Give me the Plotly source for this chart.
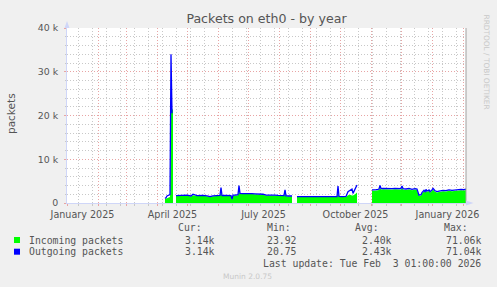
import plotly.graph_objects as go
import pandas as pd

# ---------------- data ----------------
start_date = "2025-01-01"
# day offsets from start_date (one pixel per day in the original); None marks a data gap
days = [98, 99, 100, 101, 102, 103, 104, 105, 106, 107,
        109, 113, 116, 120, 124, 126, 130, 133, 136, 140, 143, 146, 150, 152, 153, 154, 155,
        158, 161, 163, 164, 165, 166, 168, 170, 171, 172, 173, 176, 179, 182, 185, 188, 191,
        194, 196, 199, 202, 205, 208, 211, 214, 217, 218, 219, 222, 225, 227,
        230, 233, 236, 239, 242, 245, 248, 251, 254, 257, 260, 263, 266, 269, 270, 271, 272,
        275, 278, 279, 281, 283, 285, 286, 288, 289, 290, 297,
        305, 307, 309, 311, 312, 313, 314, 316, 319, 322, 325, 328, 331, 333, 334, 335, 336,
        339, 342, 345, 348, 350, 351, 352, 354, 355, 357, 358, 359, 360, 362, 363, 365, 366,
        368, 370, 372, 374, 376, 379, 382, 385, 388, 391, 394, 397, 399]

# thousands of packets
incoming_k = [0.9, 1.0, 1.1, 1.2, 1.2, 1.4, 21.6, 21.6, 21.2, None,
              1.6, 1.7, 1.6, 1.7, 1.5, 1.8, 1.6, 1.7, 1.65, 1.55, 1.4, 1.55, 1.65, 1.6, 1.65, 2.6, 1.6,
              1.65, 1.7, 1.65, 1.6, 0.8, 1.7, 1.7, 1.8, 1.8, 3.0, 2.1, 2.05, 2.1, 2.0, 2.05, 2.0, 1.95,
              2.0, 1.9, 1.7, 1.75, 1.65, 1.7, 1.65, 1.7, 1.6, 2.3, 1.55, 1.5, 1.5, None,
              1.35, 1.35, 1.35, 1.35, 1.35, 1.35, 1.4, 1.35, 1.35, 1.35, 1.35, 1.35, 1.35, 1.35, 1.35, 2.6, 1.4,
              1.35, 1.35, 1.4, 1.8, 1.9, 1.7, 1.7, 2.0, 2.2, 2.4, None,
              2.8, 2.9, 2.85, 2.9, 3.0, 3.5, 3.1, 3.15, 3.1, 3.2, 3.1, 3.15, 3.1, 3.2, 3.1, 3.5, 3.1,
              3.0, 3.15, 2.9, 3.1, 3.0, 2.2, 1.6, 1.7, 2.2, 2.7, 2.4, 2.9, 2.5, 2.8, 2.4, 2.8, 3.1,
              2.6, 2.4, 2.5, 2.6, 2.7, 2.65, 2.8, 2.7, 2.8, 2.8, 2.9, 2.85, 2.95]

outgoing_k = [1.05, 1.2, 1.6, 1.7, 1.8, 1.9, 34.0, 20.5, None, None,
              1.7, 1.8, 1.7, 1.8, 1.6, 2.0, 1.7, 1.8, 1.75, 1.65, 1.45, 1.65, 1.75, 1.7, 1.75, 3.5, 1.7,
              1.75, 1.8, 1.75, 1.7, 0.9, 1.8, 1.8, 1.9, 1.9, 4.0, 2.2, 2.15, 2.2, 2.1, 2.15, 2.1, 2.05,
              2.1, 2.0, 1.8, 1.85, 1.75, 1.8, 1.75, 1.8, 1.7, 3.0, 1.65, 1.6, 1.6, None,
              1.45, 1.45, 1.45, 1.45, 1.45, 1.45, 1.5, 1.45, 1.45, 1.45, 1.45, 1.45, 1.45, 1.45, 1.45, 3.9, 1.5,
              1.45, 1.45, 1.5, 2.6, 3.0, 3.2, 2.2, 3.1, 3.6, 4.1, None,
              3.0, 3.1, 3.05, 3.1, 3.2, 4.0, 3.3, 3.35, 3.3, 3.4, 3.3, 3.35, 3.3, 3.4, 3.3, 3.9, 3.3,
              3.2, 3.35, 3.1, 3.3, 3.2, 2.4, 1.8, 1.9, 2.4, 2.9, 2.6, 3.1, 2.7, 3.0, 2.6, 3.0, 3.35,
              2.8, 2.6, 2.7, 2.8, 2.9, 2.85, 3.0, 2.9, 3.0, 3.0, 3.1, 3.05, 3.14]

x_tick_dates = ["2025-01-16 12:00", "2025-04-16 12:00", "2025-07-16 12:00",
                "2025-10-16 12:00", "2026-01-16 12:00"]
x_tick_labels = ["January 2025", "April 2025", "July 2025", "October 2025", "January 2026"]
y_tick_vals = [0, 10, 20, 30, 40]
y_tick_labels = ["0", "10 k", "20 k", "30 k", "40 k"]

series_names = ["Incoming packets", "Outgoing packets"]
series_colors = ["#00FF00", "#0000FF"]
cur_vals = ["3.14k", "3.14k"]
min_vals = ["23.92", "20.75"]
avg_vals = ["2.40k", "2.43k"]
max_vals = ["71.06k", "71.04k"]

x_range = ["2025-01-01", "2026-02-04"]

# ---------------- figure ----------------
W, H = 497, 287
L, R, T, B = 67, 466, 28, 203


def px(xp):
    return (xp - L) / (R - L)


def py(yp):
    return (B - yp) / (B - T)


dates = list(pd.Timestamp(start_date) + pd.to_timedelta(days, unit="D"))


def segments(xs, ys):
    """Split a series at None values so that each run is drawn on its own."""
    out, cx, cy = [], [], []
    for xv, yv in zip(xs, ys):
        if yv is None:
            if cx:
                out.append((cx, cy))
            cx, cy = [], []
        else:
            cx.append(xv)
            cy.append(yv)
    if cx:
        out.append((cx, cy))
    return out


FONT = "DejaVu Sans"
MONO = "DejaVu Sans Mono"
TXT = "#555555"
MGRID = "#E8A4A4"
GRID = "#C8C8C8"
AXIS = "#CFD6F8"

fig = go.Figure()
for sx, sy in segments(dates, incoming_k):
    fig.add_trace(go.Scatter(x=sx, y=sy, mode="lines", fill="tozeroy",
                             fillcolor=series_colors[0], line=dict(width=0, color=series_colors[0]),
                             hoverinfo="skip", name=series_names[0]))
for sx, sy in segments(dates, outgoing_k):
    fig.add_trace(go.Scatter(x=sx, y=sy, mode="lines",
                             line=dict(width=1.3, color=series_colors[1]),
                             hoverinfo="skip", name=series_names[1]))

fig.update_layout(
    width=W, height=H, autosize=False,
    margin=dict(l=L, r=W - R, t=T, b=H - B, pad=0),
    paper_bgcolor="#F0F0F0", plot_bgcolor="#FFFFFF",
    showlegend=False,
    font=dict(family=FONT, color=TXT, size=9.6),
    title=dict(text="Packets on eth0 - by year", x=0.5, xref="paper", xanchor="center",
               y=1 - 19 / H, yref="container", yanchor="middle",
               font=dict(family=FONT, size=12.6, color=TXT)),
    xaxis=dict(type="date", range=x_range, dtick="M1", tick0="2025-01-01",
               showticklabels=False, ticks="outside", ticklen=2, tickcolor=MGRID,
               showgrid=True, gridcolor=MGRID, griddash="1px,2px", gridwidth=1,
               minor=dict(dtick=14 * 86400000, tick0="2025-01-12", showgrid=True,
                          gridcolor=GRID, griddash="1px,2px", ticks="outside", ticklen=2,
                          tickcolor=GRID),
               showline=True, linecolor=AXIS, linewidth=1, zeroline=False, fixedrange=True),
    xaxis2=dict(type="date", range=x_range, overlaying="x", anchor="y", side="bottom",
                tickmode="array", tickvals=x_tick_dates, ticktext=x_tick_labels,
                ticks="", showgrid=False, showline=False, zeroline=False,
                tickfont=dict(family=FONT, size=9.6, color=TXT), ticklabelstandoff=4),
    yaxis=dict(range=[0, 40], tickmode="array", tickvals=y_tick_vals, ticktext=y_tick_labels,
               ticks="outside", ticklen=2, tickcolor=MGRID,
               showgrid=True, gridcolor=MGRID, griddash="1px,2px",
               minor=dict(dtick=2, showgrid=True, gridcolor=GRID, griddash="1px,2px",
                          ticks="outside", ticklen=1, tickcolor=GRID),
               showline=True, linecolor=AXIS, linewidth=1, zeroline=False,
               tickfont=dict(family=FONT, size=9.4, color=TXT), ticklabelstandoff=4,
               fixedrange=True),
)

# invisible trace to make xaxis2 live
fig.add_trace(go.Scatter(x=[x_range[0]], y=[None], xaxis="x2", yaxis="y",
                         mode="markers", showlegend=False, hoverinfo="skip"))

shapes = []
# right edge line
shapes.append(dict(type="line", xref="paper", yref="paper", x0=1, x1=1, y0=0, y1=1,
                   line=dict(color="#A0A0A0", width=1)))
# axis arrows
shapes.append(dict(type="path", xref="paper", yref="paper",
                   path=f"M {px(466)} {py(200.5)} L {px(473.5)} {py(203)} L {px(466)} {py(205.5)} Z",
                   fillcolor=AXIS, line=dict(width=0)))
shapes.append(dict(type="path", xref="paper", yref="paper",
                   path=f"M {px(64.5)} {py(28)} L {px(67)} {py(21)} L {px(69.5)} {py(28)} Z",
                   fillcolor=AXIS, line=dict(width=0)))
# legend swatches
for i, c in enumerate(series_colors):
    yc = 240 + i * 11.7
    shapes.append(dict(type="rect", xref="paper", yref="paper",
                       x0=px(14), x1=px(20), y0=py(yc - 3), y1=py(yc + 3),
                       fillcolor=c, line=dict(width=0)))
fig.update_layout(shapes=shapes)

ann = []


def add_text(text, xp, yp, anchor="left", size=9.8, family=MONO, color=TXT, angle=0):
    ann.append(dict(text=text, x=px(xp), y=py(yp), xref="paper", yref="paper",
                    xanchor=anchor, yanchor="middle", showarrow=False, textangle=angle,
                    font=dict(family=family, size=size, color=color)))


# y axis title
add_text("packets", 11, 114, anchor="center", size=10.5, family=FONT, angle=-90)
# legend header
add_text("Cur:", 204, 227.7, anchor="right")
add_text("Min:", 292.7, 227.7, anchor="right")
add_text("Avg:", 381, 227.7, anchor="right")
add_text("Max:", 470, 227.7, anchor="right")
for i in range(2):
    yc = 240 + i * 11.7
    add_text(series_names[i], 26.7, yc, anchor="left")
    add_text(cur_vals[i], 216.7, yc, anchor="right")
    add_text(min_vals[i], 299.3, yc, anchor="right")
    add_text(avg_vals[i], 394, yc, anchor="right")
    add_text(max_vals[i], 482.7, yc, anchor="right")
add_text("Last update: Tue Feb\u00a0\u00a03 01:00:00 2026", 482.7, 263.3, anchor="right")
add_text("Munin 2.0.75", 247.7, 276, anchor="center", size=7.5, family=FONT, color="#C8C8C8")
add_text("RRDTOOL / TOBI OETIKER", 486.5, 62, anchor="center", size=7.4, family=FONT,
         color="#C8C8C8", angle=90)
fig.update_layout(annotations=ann)

fig.write_html("out.html")
